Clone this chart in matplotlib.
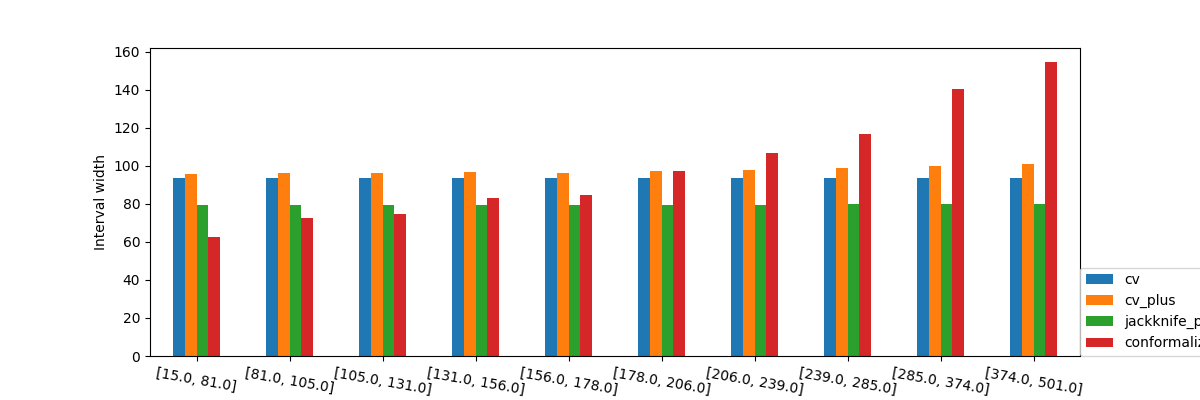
import matplotlib
matplotlib.use("Agg")
import matplotlib.pyplot as plt
import numpy as np
import pandas as pd

bins = ["[15.0, 81.0]", "[81.0, 105.0]", "[105.0, 131.0]", "[131.0, 156.0]",
        "[156.0, 178.0]", "[178.0, 206.0]", "[206.0, 239.0]", "[239.0, 285.0]",
        "[285.0, 374.0]", "[374.0, 501.0]"]
cv = [93.8, 93.8, 93.8, 93.8, 93.8, 93.8, 93.8, 93.8, 93.8, 93.8]
cv_plus = [95.5, 96.0, 96.0, 97.0, 96.5, 97.5, 98.0, 99.0, 100.0, 101.0]
jackknife_plus_ab = [79.5, 79.5, 79.5, 79.5, 79.5, 79.5, 79.5, 80.0, 80.0, 80.0]
conformalized = [62.5, 72.5, 74.5, 83.0, 84.5, 97.5, 107.0, 117.0, 140.5, 154.5]

df = pd.DataFrame({
    "cv": cv,
    "cv_plus": cv_plus,
    "jackknife_plus_ab": jackknife_plus_ab,
    "conformalized_quantile_regression": conformalized,
}, index=bins)

fig, ax = plt.subplots(figsize=(12, 4), dpi=100)
df.plot.bar(ax=ax, rot=-10)
ax.set_ylabel("Interval width")
ax.set_ylim(0, 162)
# legend sits flush against the axes corner and runs off the figure edge, as in the reference
ax.legend(loc="lower left", bbox_to_anchor=(1.0, 0.0), borderaxespad=0)
fig.subplots_adjust(left=0.125, right=0.9, top=0.88, bottom=0.11)
fig.savefig("out.png")
